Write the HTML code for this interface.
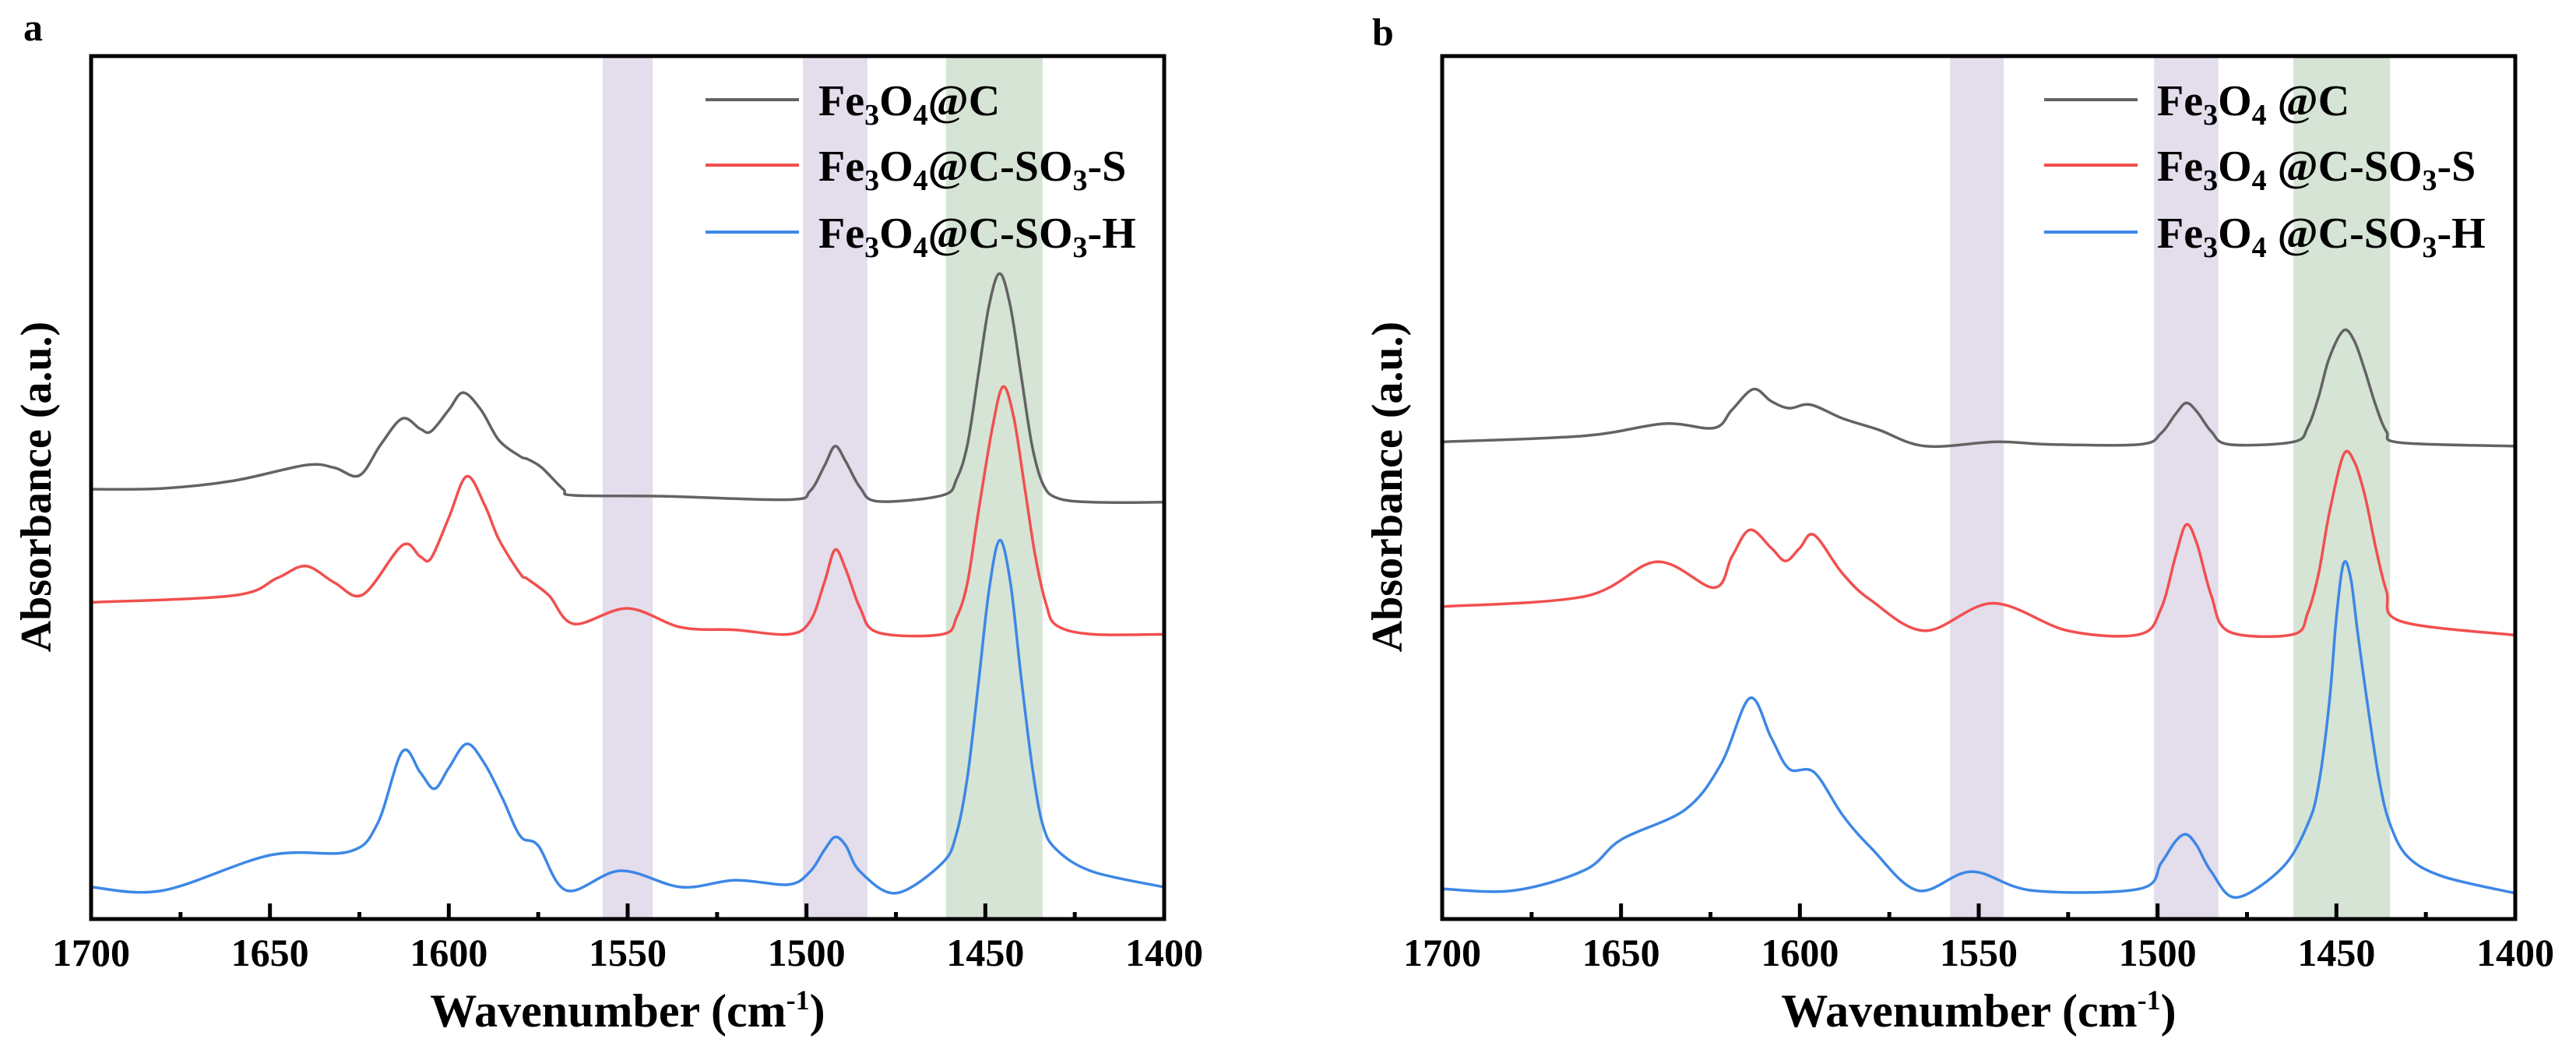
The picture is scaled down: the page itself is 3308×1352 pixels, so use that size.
<!DOCTYPE html>
<html><head><meta charset="utf-8">
<style>
html,body{margin:0;padding:0;background:#fff;}
svg{display:block;}
text{font-family:"Liberation Serif",serif;font-weight:bold;fill:#000;}
</style></head>
<body>
<svg id="fig" width="3308" height="1352" viewBox="0 0 3308 1352" xmlns="http://www.w3.org/2000/svg"></svg>
<script>
// ---- data (wavenumber cm-1, absorbance a.u. 0-100 scale) ----
const xTicks = [1700, 1650, 1600, 1550, 1500, 1450, 1400];
const seriesNames = ["Fe3O4@C", "Fe3O4@C-SO3-S", "Fe3O4@C-SO3-H"];
const bandsA = [[1557, 1543], [1501, 1483], [1461, 1434]];
const bandsB = [[1558, 1543], [1501, 1483], [1462, 1435]];

const aBlackX = [1700,1680,1660,1640,1632,1625,1619,1613,1608,1605,1600,1596,1591,1586,1580,1578,1574,1568,1565,1540,1505,1499,1495,1492,1489,1485,1480,1462,1458,1455,1452,1449,1446,1443,1440,1437,1434,1430,1420,1400];
const aBlackY = [49.8,49.9,50.8,52.6,52.3,51.4,55.0,58.0,56.8,56.5,59.0,61.0,59.0,55.5,53.6,53.3,52.3,49.8,49.1,49.0,48.6,49.6,52.5,54.8,53.0,50.0,48.4,49.1,51.0,55.0,63.0,71.0,74.8,71.0,63.0,55.0,50.5,48.8,48.3,48.3];
const aRedX = [1700,1660,1648,1640,1632,1624,1613,1608,1605,1600,1595,1590,1586,1580,1578,1572,1565,1550,1535,1520,1505,1499,1495,1492,1489,1485,1480,1462,1458,1455,1452,1448,1445,1442,1439,1436,1433,1430,1420,1400];
const aRedY = [36.7,37.5,39.5,40.9,39.0,37.6,43.3,42.0,41.8,46.5,51.3,48.0,44.0,40.0,39.4,37.5,34.2,36.0,33.8,33.5,33.0,34.5,39.0,42.8,40.5,36.0,33.2,33.0,35.0,39.0,47.0,57.0,61.7,58.0,50.0,42.0,36.5,34.0,33.0,33.0];
const aBlueX = [1700,1680,1650,1628,1620,1613,1608,1604,1600,1595,1590,1585,1580,1575,1567,1552,1535,1520,1505,1499,1495,1492,1489,1485,1475,1462,1458,1455,1452,1449,1446,1443,1440,1437,1434,1430,1420,1400];
const aBlueY = [3.7,3.3,7.4,7.8,11.0,19.4,17.0,15.1,17.5,20.3,18.0,14.0,9.6,8.5,3.3,5.6,3.7,4.5,4.0,5.5,8.0,9.5,8.5,5.5,3.0,6.5,10.0,16.5,27.0,38.0,43.9,39.0,28.0,18.0,11.0,8.0,5.5,3.7];

const bBlackX = [1700,1660,1638,1624,1619,1613,1608,1603,1597,1588,1578,1565,1545,1530,1505,1499,1495,1492,1489,1485,1480,1462,1458,1455,1452,1448,1445,1442,1439,1436,1432,1400];
const bBlackY = [55.3,56.0,57.4,56.9,59.0,61.4,60.0,59.2,59.6,58.0,56.7,54.8,55.3,55.0,55.0,56.3,58.5,59.8,58.8,56.5,55.0,55.3,57.0,60.5,65.0,68.2,67.0,63.5,59.5,56.5,55.2,54.8];
const bRedX = [1700,1660,1640,1624,1619,1614,1608,1604,1600,1596,1588,1580,1565,1546,1525,1505,1499,1495,1492,1489,1485,1480,1462,1458,1455,1452,1448,1445,1442,1439,1436,1432,1400];
const bRedY = [36.2,37.4,41.4,38.4,42.0,45.1,43.0,41.5,43.0,44.5,40.0,36.9,33.4,36.6,33.4,33.0,36.0,42.0,45.7,43.5,37.5,33.3,33.0,35.5,40.0,47.0,53.8,53.0,49.0,43.0,38.0,34.5,32.9];
const bBlueX = [1700,1680,1660,1650,1632,1622,1614,1608,1603,1596,1588,1580,1567,1552,1535,1505,1499,1495,1492,1489,1485,1478,1465,1458,1455,1452,1450,1448,1446,1444,1441,1438,1435,1430,1420,1400];
const bBlueY = [3.5,3.3,5.7,9.2,12.7,18.0,25.6,21.0,17.4,17.0,12.0,8.2,3.3,5.5,3.3,3.5,6.5,9.0,9.8,8.5,5.5,2.5,6.0,11.0,15.5,25.0,35.0,41.2,39.5,33.0,24.0,16.0,11.0,7.2,4.9,3.0];

const colors = ["#636363", "#f24f4f", "#3d87e6"];
const NS = "http://www.w3.org/2000/svg";
const svg = document.getElementById("fig");

function el(tag, attrs, parent) {
  const e = document.createElementNS(NS, tag);
  for (const k in attrs) e.setAttribute(k, attrs[k]);
  (parent || svg).appendChild(e);
  return e;
}
function smoothPath(pts) {
  let d = "M" + pts[0][0].toFixed(1) + "," + pts[0][1].toFixed(1);
  for (let i = 0; i < pts.length - 1; i++) {
    const p0 = pts[i - 1] || pts[i], p1 = pts[i], p2 = pts[i + 1], p3 = pts[i + 2] || pts[i + 1];
    const c1 = [p1[0] + (p2[0] - p0[0]) / 6, p1[1] + (p2[1] - p0[1]) / 6];
    const c2 = [p2[0] - (p3[0] - p1[0]) / 6, p2[1] - (p3[1] - p1[1]) / 6];
    d += " C" + c1[0].toFixed(1) + "," + c1[1].toFixed(1) + " " + c2[0].toFixed(1) + "," + c2[1].toFixed(1) + " " + p2[0].toFixed(1) + "," + p2[1].toFixed(1);
  }
  return d;
}

function panel(cfg) {
  const g = el("g", {});
  
  
  const L = cfg.left, R = cfg.left + 1378, T = 72, B = 1180;
  const xs = v => L + (1700 - v) / 300 * (R - L);
  const ys = v => B - v / 100 * (B - T);

  cfg.bands.forEach((b, i) => {
    const r = el("rect", {x: xs(b[0]), y: T, width: xs(b[1]) - xs(b[0]), height: B - T, fill: i === 2 ? "#d5e4d5" : "#e3ddec"}, g);
    
    
  });
  cfg.series.forEach((s, i) => {
    const pts = s[0].map((x, k) => [xs(x), ys(s[1][k])]);
    const p = el("path", {d: smoothPath(pts), fill: "none", stroke: colors[i], "stroke-width": 3.5, "stroke-linejoin": "round"}, g);
    
    
  });
  const fr = el("rect", {x: L, y: T, width: R - L, height: B - T, fill: "none", stroke: "#000", "stroke-width": 5}, g);
  
  
  for (let v = 1700; v >= 1400; v -= 25) {
    const major = v % 50 === 0;
    const tk = el("line", {x1: xs(v), x2: xs(v), y1: B, y2: B - (major ? 20 : 9), stroke: "#000", "stroke-width": 5}, g);
    
    
  }
  xTicks.forEach(v => {
    const t = el("text", {x: xs(v), y: 1240, "text-anchor": "middle", "font-size": 50}, g);
    t.textContent = v;
    
    
  });
  const xt = el("text", {x: (L + R) / 2, y: 1318, "text-anchor": "middle", "font-size": 60}, g);
  
  
  xt.innerHTML = 'Wavenumber (cm<tspan font-size="36" dy="-22">-1</tspan><tspan dy="22">)</tspan>';
  const yt = el("text", {x: 0, y: 0, "text-anchor": "middle", "font-size": 56, transform: "translate(" + (L - 52) + "," + 625 + ") rotate(-90)"}, g);
  yt.textContent = "Absorbance (a.u.)";
  
  
  const pl = el("text", {x: cfg.labX, y: cfg.labY, "font-size": 50}, g);
  pl.textContent = cfg.id;
  
  
  const rowsY = [128, 212, 298];
  const suffix = ["@C", "@C-SO", "@C-SO"];
  const tail = ["", "-S", "-H"];
  rowsY.forEach((y, i) => {
    const lg = el("g", {}, g);
    
    
    el("line", {x1: cfg.legX, x2: cfg.legX + 120, y1: y, y2: y, stroke: colors[i], "stroke-width": 4}, lg);
    const t = el("text", {x: cfg.legX + 145, y: y + 20, "font-size": 56}, lg);
    let h = 'Fe<tspan font-size="38" dy="12">3</tspan><tspan dy="-12">O</tspan><tspan font-size="38" dy="12">4</tspan><tspan dy="-12">' + cfg.gap + suffix[i] + '</tspan>';
    if (i > 0) h += '<tspan font-size="38" dy="12">3</tspan><tspan dy="-12">' + tail[i] + '</tspan>';
    t.innerHTML = h;
  });
}

panel({id: "a", left: 117, bands: bandsA, labX: 30, labY: 52, legX: 906, gap: "",
  series: [[aBlackX, aBlackY], [aRedX, aRedY], [aBlueX, aBlueY]]});
panel({id: "b", left: 1852, bands: bandsB, labX: 1762, labY: 58, legX: 2625, gap: " ",
  series: [[bBlackX, bBlackY], [bRedX, bRedY], [bBlueX, bBlueY]]});
</script>
</body></html>
